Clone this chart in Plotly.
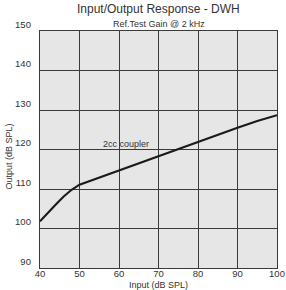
import plotly.graph_objects as go

input_db = [40, 42, 44, 46, 48, 50, 55, 60, 65, 70, 75, 80, 85, 90, 95, 100]
output_db = [101.8, 104.0, 106.1, 108.1, 109.8, 111.1, 112.9, 114.7, 116.5, 118.3, 120.1, 122.0, 123.8, 125.5, 127.2, 128.7]
x_ticks = [40, 50, 60, 70, 80, 90, 100]
y_ticks = [90, 100, 110, 120, 130, 140, 150]

FONT = "Liberation Sans, Arial, sans-serif"

fig = go.Figure()
fig.add_trace(go.Scatter(x=input_db, y=output_db, mode="lines",
                         line=dict(color="#1a1a1a", width=2.1), showlegend=False,
                         hoverinfo="skip"))

fig.add_annotation(x=61.8, y=121.3, text="2cc coupler", showarrow=False,
                   font=dict(family=FONT, size=9, color="#333333"))

fig.add_annotation(x=0.5, y=1, xref="paper", yref="paper", yshift=13, text="Input/Output Response - DWH",
                   showarrow=False, font=dict(family=FONT, size=12, color="#333333"), yanchor="bottom")
fig.add_annotation(x=0.5, y=1, xref="paper", yref="paper", yshift=0, text="Ref.Test Gain @ 2 kHz",
                   showarrow=False, font=dict(family=FONT, size=9, color="#333333"), yanchor="bottom")
fig.add_annotation(x=0.5, y=0, xref="paper", yref="paper", yshift=-10, text="Input (dB SPL)",
                   showarrow=False, font=dict(family=FONT, size=9, color="#333333"), yanchor="top")
fig.add_annotation(x=0, y=0.47, xref="paper", yref="paper", xshift=-24, text="Output (dB SPL)", textangle=-90,
                   showarrow=False, font=dict(family=FONT, size=9, color="#333333"), xanchor="right")

axis_common = dict(showgrid=True, gridcolor="#3a3a3a", gridwidth=1.3,
                   showline=True, linecolor="#3a3a3a", linewidth=1.3, mirror=True,
                   zeroline=False, ticks="", tickfont=dict(family=FONT, size=9.5, color="#333333"),
                   layer="above traces")

fig.update_layout(
    template="none",
    width=286, height=290, margin=dict(l=40, r=9, t=31, b=22),
    plot_bgcolor="#e6e6e7", paper_bgcolor="white",
    font=dict(family=FONT, color="#333333"),
    xaxis=dict(range=[40, 100], tickmode="array", tickvals=x_ticks, ticklabelstandoff=-4, **axis_common),
    yaxis=dict(range=[90, 150], tickmode="array", tickvals=y_ticks, ticklabelstandoff=6,
               ticklabelposition="outside top", **axis_common),
)

fig.write_html("out.html", config={"displayModeBar": False},
               post_script="document.body.style.margin='0';document.body.style.overflow='hidden';")
